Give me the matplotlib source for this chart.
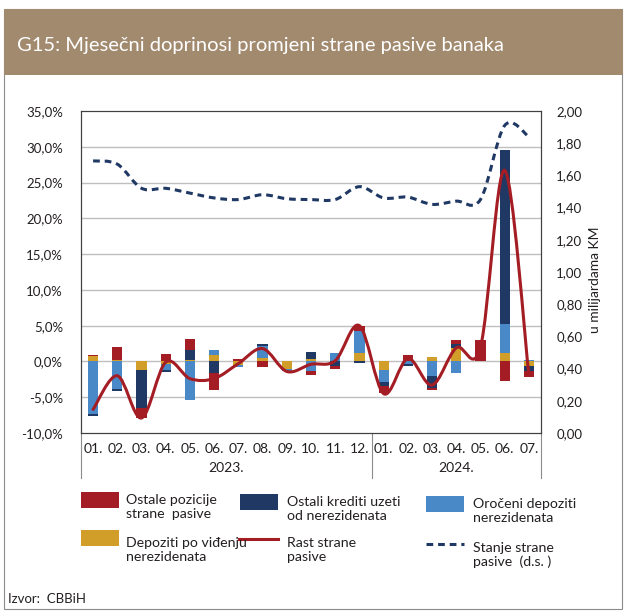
import matplotlib
matplotlib.use("Agg")
import matplotlib.pyplot as plt
import numpy as np
from matplotlib.patches import Rectangle, PathPatch
from matplotlib.lines import Line2D
from matplotlib.path import Path

plt.rcParams['font.family'] = ['Lato', 'DejaVu Sans']

# Podaci (u %, osim stanja u mlrd KM)
mjeseci = ["01.", "02.", "03.", "04.", "05.", "06.", "07.", "08.", "09.", "10.", "11.", "12.",
           "01.", "02.", "03.", "04.", "05.", "06.", "07."]
godine = ["2023.", "2024."]
depoziti_vidjenje = [0.75, 0.15, -1.25, -0.3, 0.25, 0.85, -0.55, 0.45, -1.1, 0.3, 0.0, 1.15,
                     -1.25, 0.0, 0.6, 1.85, 0.0, 1.15, -0.6]
oroceni_depoziti = [-7.4, -3.9, 0.0, -0.9, -5.4, 0.8, -0.25, 1.7, -0.3, -1.4, 1.15, 3.15,
                    -1.6, -0.3, -2.1, -1.55, 0.0, 4.1, 0.2]
ostali_krediti = [-0.2, -0.25, -5.2, -0.25, 1.4, -1.6, 0.0, 0.3, 0.0, 1.0, -0.65, -0.2,
                  -0.6, -0.35, -1.6, 0.6, 0.0, 24.3, -0.7]
ostale_pozicije = [0.15, 1.85, -1.5, 1.05, 1.45, -2.45, 0.3, -0.8, 0.0, -0.55, -0.45, 0.7,
                   -1.0, 0.85, -0.3, 0.55, 3.0, -2.7, -0.9]
rast_pasive = [-6.7, -2.0, -7.9, -0.1, -2.4, -2.4, -0.3, 1.8, -1.4, -0.4, 0.1, 5.0,
               -4.5, 0.4, -3.3, 1.9, 2.0, 26.7, -1.9]
stanje_pasive = [1.69, 1.67, 1.52, 1.52, 1.49, 1.46, 1.45, 1.48, 1.455, 1.45, 1.45, 1.53,
                 1.46, 1.465, 1.42, 1.44, 1.45, 1.91, 1.84]

W, H = 624, 612
RED = "#A51D24"
NAVY = "#1F3864"
BLUE = "#4A89C8"
GOLD = "#D19E2A"
TXT = "#231F20"


def fx(x):
    return x / W


def fy(y):
    return 1 - y / H


def smooth_path(xs, ys):
    # Bezier kroz tacke (glatka linija kao u Excelu)
    pts = np.column_stack([xs, ys]).astype(float)
    n = len(pts)
    verts = [pts[0]]
    codes = [Path.MOVETO]
    for i in range(n - 1):
        p0 = pts[i - 1] if i > 0 else pts[i]
        p1 = pts[i]
        p2 = pts[i + 1]
        p3 = pts[i + 2] if i + 2 < n else pts[i + 1]
        c1 = p1 + (p2 - p0) / 6
        c2 = p2 - (p3 - p1) / 6
        verts += [c1, c2, p2]
        codes += [Path.CURVE4] * 3
    return Path(verts, codes)


fig = plt.figure(figsize=(W / 100, H / 100), dpi=100)

# okvir i naslovna traka
fig.add_artist(Rectangle((fx(3.5), fy(609)), 618.5 / W, 600 / H, transform=fig.transFigure,
                         facecolor="none", edgecolor="#8C8C8C", lw=0.8))
fig.add_artist(Rectangle((fx(3.5), fy(75)), 619.5 / W, 66 / H, transform=fig.transFigure,
                         facecolor="#A28A6F", edgecolor="none"))
fig.text(fx(17), fy(46), "G15: Mjesečni doprinosi promjeni strane pasive banaka",
         color="white", fontsize=14.5, va="center", ha="left")

ax = fig.add_axes([fx(81), fy(433), 460 / W, 322 / H])
x = np.arange(len(mjeseci))

for g in range(-5, 31, 5):
    ax.axhline(g, color="#BFBFBF", lw=1, zorder=0)

pos = np.zeros(len(x))
neg = np.zeros(len(x))
for serija, boja in [(depoziti_vidjenje, GOLD), (oroceni_depoziti, BLUE),
                     (ostali_krediti, NAVY), (ostale_pozicije, RED)]:
    v = np.array(serija)
    dno = np.where(v >= 0, pos, neg)
    ax.bar(x, v, bottom=dno, width=0.42, color=boja, zorder=2)
    pos = pos + np.where(v >= 0, v, 0)
    neg = neg + np.where(v < 0, v, 0)

ax.add_patch(PathPatch(smooth_path(x, rast_pasive), facecolor="none", edgecolor=RED,
                       lw=2.2, zorder=3, capstyle="round"))

ax.set_xlim(-0.5, len(x) - 0.5)
ax.set_ylim(-10, 35)
ax.set_yticks(range(-10, 36, 5))
ax.set_yticklabels([f"{t:.1f}%".replace(".", ",") for t in range(-10, 36, 5)])
ax.set_xticks(x)
ax.set_xticklabels(mjeseci)
ax.tick_params(axis="y", length=0, pad=13, labelsize=9.5, labelcolor=TXT)
ax.tick_params(axis="x", length=0, pad=7, labelsize=10, labelcolor=TXT)
for s in ax.spines.values():
    s.set_color("#404040")
    s.set_linewidth(0.8)

ax2 = ax.twinx()
ax2.add_patch(PathPatch(smooth_path(x, stanje_pasive), facecolor="none", edgecolor=NAVY,
                        lw=2.2, linestyle=(0, (2.2, 1.6)), zorder=4))
ax2.set_ylim(0, 2)
ax2.set_yticks(np.arange(0, 2.01, 0.2))
ax2.set_yticklabels([f"{t:.2f}".replace(".", ",") for t in np.arange(0, 2.01, 0.2)])
ax2.tick_params(axis="y", length=0, pad=11, labelsize=9.5, labelcolor=TXT)
for s in ax2.spines.values():
    s.set_color("#404040")
    s.set_linewidth(0.8)
fig.text(fx(595), fy(280), "u milijardama KM", rotation=90, ha="center", va="center",
         fontsize=10, color=TXT)

# godine i razdjelnici
xt = ax.get_xaxis_transform()
ax.text(5.5, (433 - 468) / 322, godine[0], transform=xt, ha="center", va="center",
        fontsize=10, color=TXT)
ax.text(15, (433 - 468) / 322, godine[1], transform=xt, ha="center", va="center",
        fontsize=10, color=TXT)
for xs in [-0.5, 11.5, len(x) - 0.5]:
    ax.add_line(Line2D([xs, xs], [0, (433 - 478) / 322], transform=xt, color="#8C8C8C",
                       lw=0.8, clip_on=False))

# legenda
def patch(x0, y0, boja):
    fig.add_artist(Rectangle((fx(x0), fy(y0 + 15.5)), 38 / W, 15.5 / H,
                             transform=fig.transFigure, facecolor=boja, edgecolor="none"))


def tekst(x0, y0, s):
    fig.text(fx(x0), fy(y0), s, ha="left", va="center", fontsize=10.2, color=TXT,
             linespacing=1.2)


patch(81, 492, RED)
tekst(126, 507, "Ostale pozicije\nstrane  pasive")
patch(240, 494, NAVY)
tekst(287, 509, "Ostali krediti uzeti\nod nerezidenata")
patch(426, 496, BLUE)
tekst(473, 511, "Oročeni depoziti\nnerezidenata")
patch(81, 530, GOLD)
tekst(126, 550, "Depoziti po viđenju\nnerezidenata")
fig.add_artist(Line2D([fx(239), fx(278)], [fy(539), fy(539)], transform=fig.transFigure,
                      color=RED, lw=2.2))
tekst(287, 550, "Rast strane\npasive")
fig.add_artist(Line2D([fx(426), fx(464)], [fy(544), fy(544)], transform=fig.transFigure,
                      color=NAVY, lw=2.2, linestyle=(0, (2.2, 1.6))))
tekst(473, 555, "Stanje strane\npasive  (d.s. )")

fig.text(fx(8), fy(599), "Izvor:  CBBiH", ha="left", va="center", fontsize=9.5, color=TXT)

fig.savefig("out.png", dpi=100)
